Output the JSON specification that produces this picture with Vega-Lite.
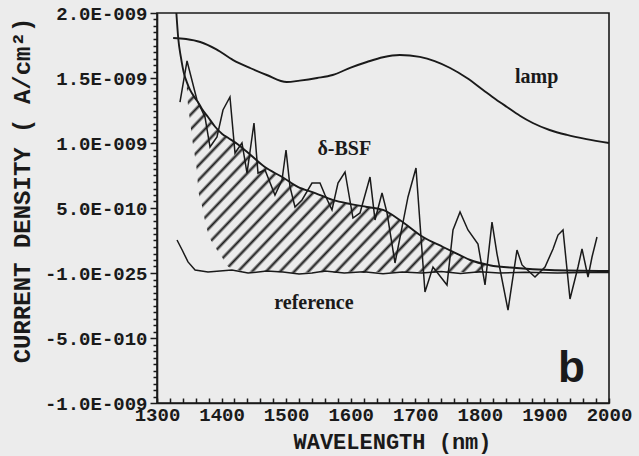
{
  "$schema": "https://vega.github.io/schema/vega-lite/v6.json",
  "width": 452,
  "height": 390,
  "autosize": {"type": "none"},
  "padding": {"left": 157, "top": 13, "right": 30, "bottom": 53},
  "background": "#ececec",
  "datasets": {
    "hatch": [
      {"x": 1346, "top": 1.47, "bottom": 1.44},
      {"x": 1348, "top": 1.45, "bottom": 1.29},
      {"x": 1351, "top": 1.41, "bottom": 1.18},
      {"x": 1354, "top": 1.38, "bottom": 1.05},
      {"x": 1359, "top": 1.345, "bottom": 0.89},
      {"x": 1362, "top": 1.32, "bottom": 0.77},
      {"x": 1364, "top": 1.31, "bottom": 0.64},
      {"x": 1370, "top": 1.26, "bottom": 0.51},
      {"x": 1374, "top": 1.23, "bottom": 0.41},
      {"x": 1379, "top": 1.2, "bottom": 0.31},
      {"x": 1390, "top": 1.125, "bottom": 0.2},
      {"x": 1401, "top": 1.07, "bottom": 0.12},
      {"x": 1410, "top": 1.04, "bottom": 0.05},
      {"x": 1425, "top": 0.99, "bottom": 0.023},
      {"x": 1441, "top": 0.925, "bottom": 0.01},
      {"x": 1467, "top": 0.815, "bottom": 0.01},
      {"x": 1494, "top": 0.738, "bottom": 0.005},
      {"x": 1518, "top": 0.662, "bottom": 0.0},
      {"x": 1545, "top": 0.615, "bottom": 0.01},
      {"x": 1572, "top": 0.562, "bottom": 0.0},
      {"x": 1600, "top": 0.53, "bottom": 0.01},
      {"x": 1625, "top": 0.508, "bottom": 0.0},
      {"x": 1650, "top": 0.485, "bottom": 0.01},
      {"x": 1676, "top": 0.408, "bottom": 0.0},
      {"x": 1712, "top": 0.277, "bottom": 0.01},
      {"x": 1743, "top": 0.2, "bottom": 0.0},
      {"x": 1769, "top": 0.138, "bottom": 0.01},
      {"x": 1785, "top": 0.1, "bottom": 0.0},
      {"x": 1815, "top": 0.06, "bottom": 0.01}
    ],
    "smooth": [
      {"s": "lamp", "x": 1325, "y": 1.808},
      {"s": "lamp", "x": 1345, "y": 1.8},
      {"s": "lamp", "x": 1367, "y": 1.777},
      {"s": "lamp", "x": 1392, "y": 1.72},
      {"s": "lamp", "x": 1418, "y": 1.638},
      {"s": "lamp", "x": 1445, "y": 1.575},
      {"s": "lamp", "x": 1470, "y": 1.523},
      {"s": "lamp", "x": 1501, "y": 1.469},
      {"s": "lamp", "x": 1521, "y": 1.48},
      {"s": "lamp", "x": 1548, "y": 1.5},
      {"s": "lamp", "x": 1572, "y": 1.523},
      {"s": "lamp", "x": 1600, "y": 1.58},
      {"s": "lamp", "x": 1625, "y": 1.623},
      {"s": "lamp", "x": 1650, "y": 1.66},
      {"s": "lamp", "x": 1676, "y": 1.677},
      {"s": "lamp", "x": 1707, "y": 1.662},
      {"s": "lamp", "x": 1730, "y": 1.63},
      {"s": "lamp", "x": 1754, "y": 1.577},
      {"s": "lamp", "x": 1780, "y": 1.5},
      {"s": "lamp", "x": 1805, "y": 1.408},
      {"s": "lamp", "x": 1825, "y": 1.335},
      {"s": "lamp", "x": 1842, "y": 1.277},
      {"s": "lamp", "x": 1862, "y": 1.21},
      {"s": "lamp", "x": 1882, "y": 1.154},
      {"s": "lamp", "x": 1908, "y": 1.1},
      {"s": "lamp", "x": 1935, "y": 1.062},
      {"s": "lamp", "x": 1965, "y": 1.03},
      {"s": "lamp", "x": 2000, "y": 1.0},
      {"s": "bsf", "x": 1330, "y": 2.0},
      {"s": "bsf", "x": 1333, "y": 1.8},
      {"s": "bsf", "x": 1337, "y": 1.66},
      {"s": "bsf", "x": 1342, "y": 1.53},
      {"s": "bsf", "x": 1346, "y": 1.47},
      {"s": "bsf", "x": 1351, "y": 1.41},
      {"s": "bsf", "x": 1359, "y": 1.345},
      {"s": "bsf", "x": 1364, "y": 1.31},
      {"s": "bsf", "x": 1370, "y": 1.26},
      {"s": "bsf", "x": 1379, "y": 1.2},
      {"s": "bsf", "x": 1390, "y": 1.125},
      {"s": "bsf", "x": 1401, "y": 1.07},
      {"s": "bsf", "x": 1410, "y": 1.04},
      {"s": "bsf", "x": 1425, "y": 0.99},
      {"s": "bsf", "x": 1441, "y": 0.925},
      {"s": "bsf", "x": 1467, "y": 0.815},
      {"s": "bsf", "x": 1494, "y": 0.738},
      {"s": "bsf", "x": 1518, "y": 0.662},
      {"s": "bsf", "x": 1545, "y": 0.615},
      {"s": "bsf", "x": 1572, "y": 0.562},
      {"s": "bsf", "x": 1600, "y": 0.53},
      {"s": "bsf", "x": 1625, "y": 0.508},
      {"s": "bsf", "x": 1650, "y": 0.485},
      {"s": "bsf", "x": 1676, "y": 0.408},
      {"s": "bsf", "x": 1712, "y": 0.277},
      {"s": "bsf", "x": 1743, "y": 0.2},
      {"s": "bsf", "x": 1769, "y": 0.138},
      {"s": "bsf", "x": 1785, "y": 0.1},
      {"s": "bsf", "x": 1815, "y": 0.06},
      {"s": "bsf", "x": 1857, "y": 0.038},
      {"s": "bsf", "x": 1908, "y": 0.023},
      {"s": "bsf", "x": 2000, "y": 0.015}
    ],
    "jagged": [
      {"s": "ref", "x": 1331, "y": 0.254},
      {"s": "ref", "x": 1339, "y": 0.177},
      {"s": "ref", "x": 1348, "y": 0.085},
      {"s": "ref", "x": 1359, "y": 0.023},
      {"s": "ref", "x": 1379, "y": 0.008},
      {"s": "ref", "x": 1416, "y": 0.023},
      {"s": "ref", "x": 1441, "y": 0.0},
      {"s": "ref", "x": 1470, "y": 0.015},
      {"s": "ref", "x": 1495, "y": 0.008},
      {"s": "ref", "x": 1520, "y": -0.008},
      {"s": "ref", "x": 1540, "y": 0.0},
      {"s": "ref", "x": 1560, "y": 0.015},
      {"s": "ref", "x": 1590, "y": 0.0},
      {"s": "ref", "x": 1620, "y": 0.01},
      {"s": "ref", "x": 1650, "y": -0.005},
      {"s": "ref", "x": 1680, "y": 0.008},
      {"s": "ref", "x": 1710, "y": 0.0},
      {"s": "ref", "x": 1740, "y": 0.012},
      {"s": "ref", "x": 1770, "y": -0.004},
      {"s": "ref", "x": 1800, "y": 0.01},
      {"s": "ref", "x": 1830, "y": 0.0},
      {"s": "ref", "x": 1870, "y": 0.005},
      {"s": "ref", "x": 1920, "y": 0.0},
      {"s": "ref", "x": 1960, "y": 0.004},
      {"s": "ref", "x": 2000, "y": 0.004},
      {"s": "meas", "x": 1335.6, "y": 1.315},
      {"s": "meas", "x": 1346.5, "y": 1.631},
      {"s": "meas", "x": 1361.9, "y": 1.331},
      {"s": "meas", "x": 1374.3, "y": 1.2},
      {"s": "meas", "x": 1382.1, "y": 0.969},
      {"s": "meas", "x": 1392.9, "y": 1.046},
      {"s": "meas", "x": 1402.2, "y": 1.254},
      {"s": "meas", "x": 1413, "y": 1.354},
      {"s": "meas", "x": 1420.8, "y": 0.923},
      {"s": "meas", "x": 1431.6, "y": 1.0},
      {"s": "meas", "x": 1439.4, "y": 0.769},
      {"s": "meas", "x": 1450.2, "y": 1.154},
      {"s": "meas", "x": 1456.4, "y": 0.769},
      {"s": "meas", "x": 1467.3, "y": 0.792},
      {"s": "meas", "x": 1482.7, "y": 0.6},
      {"s": "meas", "x": 1493.6, "y": 0.715},
      {"s": "meas", "x": 1499.8, "y": 0.946},
      {"s": "meas", "x": 1506, "y": 0.662},
      {"s": "meas", "x": 1513.7, "y": 0.508},
      {"s": "meas", "x": 1524.6, "y": 0.562},
      {"s": "meas", "x": 1540, "y": 0.692},
      {"s": "meas", "x": 1552.4, "y": 0.692},
      {"s": "meas", "x": 1560.2, "y": 0.6},
      {"s": "meas", "x": 1571, "y": 0.485},
      {"s": "meas", "x": 1580.3, "y": 0.692},
      {"s": "meas", "x": 1591.2, "y": 0.777},
      {"s": "meas", "x": 1603.5, "y": 0.423},
      {"s": "meas", "x": 1614.4, "y": 0.462},
      {"s": "meas", "x": 1629.9, "y": 0.738},
      {"s": "meas", "x": 1637.6, "y": 0.408},
      {"s": "meas", "x": 1648.5, "y": 0.615},
      {"s": "meas", "x": 1656.2, "y": 0.462},
      {"s": "meas", "x": 1668.6, "y": 0.077},
      {"s": "meas", "x": 1688.7, "y": 0.585},
      {"s": "meas", "x": 1701.1, "y": 0.808},
      {"s": "meas", "x": 1715, "y": -0.146},
      {"s": "meas", "x": 1727.4, "y": 0.046},
      {"s": "meas", "x": 1749.1, "y": -0.092},
      {"s": "meas", "x": 1758.4, "y": 0.331},
      {"s": "meas", "x": 1769.3, "y": 0.469},
      {"s": "meas", "x": 1781.6, "y": 0.331},
      {"s": "meas", "x": 1797.1, "y": 0.223},
      {"s": "meas", "x": 1808, "y": -0.092},
      {"s": "meas", "x": 1818.8, "y": 0.392},
      {"s": "meas", "x": 1826.6, "y": 0.146},
      {"s": "meas", "x": 1843.6, "y": -0.285},
      {"s": "meas", "x": 1857.5, "y": 0.177},
      {"s": "meas", "x": 1865.3, "y": 0.062},
      {"s": "meas", "x": 1885.4, "y": -0.031},
      {"s": "meas", "x": 1900.9, "y": 0.046},
      {"s": "meas", "x": 1913.3, "y": 0.185},
      {"s": "meas", "x": 1921, "y": 0.292},
      {"s": "meas", "x": 1928.8, "y": 0.331},
      {"s": "meas", "x": 1939.6, "y": -0.2},
      {"s": "meas", "x": 1952, "y": 0.046},
      {"s": "meas", "x": 1958.2, "y": 0.185},
      {"s": "meas", "x": 1967.5, "y": -0.031},
      {"s": "meas", "x": 1973.7, "y": 0.123},
      {"s": "meas", "x": 1981.4, "y": 0.277}
    ],
    "notes": [
      {"x": 1888, "y": 1.462, "label": "lamp"},
      {"x": 1590, "y": 0.908, "label": "δ-BSF"},
      {"x": 1543, "y": -0.275, "label": "reference"}
    ],
    "panel": [
      {"x": 1942, "y": -0.838, "label": "b"}
    ]
  },
  "layer": [
    {
      "data": {"name": "hatch"},
      "mark": {
        "type": "area",
        "interpolate": "monotone",
        "fill": {
          "gradient": "linear",
          "x1": 0, "y1": 0, "x2": 1.176, "y2": 0.7076,
          "stops": [
            {"offset": 0.008, "color": "rgba(26,26,26,0)"}, {"offset": 0.0145, "color": "#1a1a1a"}, {"offset": 0.021, "color": "rgba(26,26,26,0)"},
            {"offset": 0.037, "color": "rgba(26,26,26,0)"}, {"offset": 0.0435, "color": "#1a1a1a"}, {"offset": 0.050, "color": "rgba(26,26,26,0)"},
            {"offset": 0.066, "color": "rgba(26,26,26,0)"}, {"offset": 0.0725, "color": "#1a1a1a"}, {"offset": 0.079, "color": "rgba(26,26,26,0)"},
            {"offset": 0.095, "color": "rgba(26,26,26,0)"}, {"offset": 0.1015, "color": "#1a1a1a"}, {"offset": 0.108, "color": "rgba(26,26,26,0)"},
            {"offset": 0.124, "color": "rgba(26,26,26,0)"}, {"offset": 0.1305, "color": "#1a1a1a"}, {"offset": 0.137, "color": "rgba(26,26,26,0)"},
            {"offset": 0.153, "color": "rgba(26,26,26,0)"}, {"offset": 0.1595, "color": "#1a1a1a"}, {"offset": 0.166, "color": "rgba(26,26,26,0)"},
            {"offset": 0.182, "color": "rgba(26,26,26,0)"}, {"offset": 0.1885, "color": "#1a1a1a"}, {"offset": 0.195, "color": "rgba(26,26,26,0)"},
            {"offset": 0.211, "color": "rgba(26,26,26,0)"}, {"offset": 0.2175, "color": "#1a1a1a"}, {"offset": 0.224, "color": "rgba(26,26,26,0)"},
            {"offset": 0.240, "color": "rgba(26,26,26,0)"}, {"offset": 0.2465, "color": "#1a1a1a"}, {"offset": 0.253, "color": "rgba(26,26,26,0)"},
            {"offset": 0.269, "color": "rgba(26,26,26,0)"}, {"offset": 0.2755, "color": "#1a1a1a"}, {"offset": 0.282, "color": "rgba(26,26,26,0)"},
            {"offset": 0.298, "color": "rgba(26,26,26,0)"}, {"offset": 0.3045, "color": "#1a1a1a"}, {"offset": 0.311, "color": "rgba(26,26,26,0)"},
            {"offset": 0.327, "color": "rgba(26,26,26,0)"}, {"offset": 0.3335, "color": "#1a1a1a"}, {"offset": 0.340, "color": "rgba(26,26,26,0)"},
            {"offset": 0.356, "color": "rgba(26,26,26,0)"}, {"offset": 0.3625, "color": "#1a1a1a"}, {"offset": 0.369, "color": "rgba(26,26,26,0)"},
            {"offset": 0.385, "color": "rgba(26,26,26,0)"}, {"offset": 0.3915, "color": "#1a1a1a"}, {"offset": 0.398, "color": "rgba(26,26,26,0)"},
            {"offset": 0.414, "color": "rgba(26,26,26,0)"}, {"offset": 0.4205, "color": "#1a1a1a"}, {"offset": 0.427, "color": "rgba(26,26,26,0)"},
            {"offset": 0.443, "color": "rgba(26,26,26,0)"}, {"offset": 0.4495, "color": "#1a1a1a"}, {"offset": 0.456, "color": "rgba(26,26,26,0)"},
            {"offset": 0.472, "color": "rgba(26,26,26,0)"}, {"offset": 0.4785, "color": "#1a1a1a"}, {"offset": 0.485, "color": "rgba(26,26,26,0)"},
            {"offset": 0.501, "color": "rgba(26,26,26,0)"}, {"offset": 0.5075, "color": "#1a1a1a"}, {"offset": 0.514, "color": "rgba(26,26,26,0)"},
            {"offset": 0.530, "color": "rgba(26,26,26,0)"}, {"offset": 0.5365, "color": "#1a1a1a"}, {"offset": 0.543, "color": "rgba(26,26,26,0)"},
            {"offset": 0.559, "color": "rgba(26,26,26,0)"}, {"offset": 0.5655, "color": "#1a1a1a"}, {"offset": 0.572, "color": "rgba(26,26,26,0)"},
            {"offset": 0.588, "color": "rgba(26,26,26,0)"}, {"offset": 0.5945, "color": "#1a1a1a"}, {"offset": 0.601, "color": "rgba(26,26,26,0)"},
            {"offset": 0.617, "color": "rgba(26,26,26,0)"}, {"offset": 0.6235, "color": "#1a1a1a"}, {"offset": 0.630, "color": "rgba(26,26,26,0)"},
            {"offset": 0.646, "color": "rgba(26,26,26,0)"}, {"offset": 0.6525, "color": "#1a1a1a"}, {"offset": 0.659, "color": "rgba(26,26,26,0)"},
            {"offset": 0.675, "color": "rgba(26,26,26,0)"}, {"offset": 0.6815, "color": "#1a1a1a"}, {"offset": 0.688, "color": "rgba(26,26,26,0)"},
            {"offset": 0.704, "color": "rgba(26,26,26,0)"}, {"offset": 0.7105, "color": "#1a1a1a"}, {"offset": 0.717, "color": "rgba(26,26,26,0)"},
            {"offset": 0.733, "color": "rgba(26,26,26,0)"}, {"offset": 0.7395, "color": "#1a1a1a"}, {"offset": 0.746, "color": "rgba(26,26,26,0)"},
            {"offset": 0.762, "color": "rgba(26,26,26,0)"}, {"offset": 0.7685, "color": "#1a1a1a"}, {"offset": 0.775, "color": "rgba(26,26,26,0)"},
            {"offset": 0.791, "color": "rgba(26,26,26,0)"}, {"offset": 0.7975, "color": "#1a1a1a"}, {"offset": 0.804, "color": "rgba(26,26,26,0)"},
            {"offset": 0.820, "color": "rgba(26,26,26,0)"}, {"offset": 0.8265, "color": "#1a1a1a"}, {"offset": 0.833, "color": "rgba(26,26,26,0)"},
            {"offset": 0.849, "color": "rgba(26,26,26,0)"}, {"offset": 0.8555, "color": "#1a1a1a"}, {"offset": 0.862, "color": "rgba(26,26,26,0)"},
            {"offset": 0.878, "color": "rgba(26,26,26,0)"}, {"offset": 0.8845, "color": "#1a1a1a"}, {"offset": 0.891, "color": "rgba(26,26,26,0)"},
            {"offset": 0.907, "color": "rgba(26,26,26,0)"}, {"offset": 0.9135, "color": "#1a1a1a"}, {"offset": 0.920, "color": "rgba(26,26,26,0)"},
            {"offset": 0.936, "color": "rgba(26,26,26,0)"}, {"offset": 0.9425, "color": "#1a1a1a"}, {"offset": 0.949, "color": "rgba(26,26,26,0)"},
            {"offset": 0.965, "color": "rgba(26,26,26,0)"}, {"offset": 0.9715, "color": "#1a1a1a"}, {"offset": 0.978, "color": "rgba(26,26,26,0)"}
          ]
        }
      },
      "encoding": {
        "x": {
          "field": "x", "type": "quantitative",
          "scale": {"domain": [1300, 2000], "nice": false, "zero": false},
          "axis": {
            "title": "WAVELENGTH (nm)",
            "tickCount": 200,
            "values": [1300, 1320, 1340, 1360, 1380, 1400, 1420, 1440, 1460, 1480, 1500, 1520, 1540, 1560, 1580, 1600, 1620, 1640, 1660, 1680, 1700, 1720, 1740, 1760, 1780, 1800, 1820, 1840, 1860, 1880, 1900, 1920, 1940, 1960, 1980, 2000],
            "labelExpr": "datum.value % 100 == 0 ? '' + datum.value : ''",
            "labelFlush": false,
            "labelOverlap": false,
            "labelFont": "Liberation Mono",
            "labelFontSize": 19,
            "labelFontWeight": "bold",
            "labelColor": "#1a1a1a",
            "labelPadding": 7,
            "tickSize": -5,
            "tickColor": "#1a1a1a",
            "tickWidth": 1.5,
            "domainColor": "#1a1a1a",
            "domainWidth": 1.6,
            "grid": false,
            "titleFont": "Liberation Mono",
            "titleFontSize": 22,
            "titleFontWeight": "bold",
            "titleColor": "#1a1a1a",
            "titleX": 235,
            "titleY": 45,
            "titleAlign": "center",
            "titleBaseline": "alphabetic"
          }
        },
        "y": {
          "field": "top", "type": "quantitative",
          "scale": {"domain": [-1, 2], "nice": false, "zero": false},
          "axis": {
            "title": "CURRENT DENSITY ( A/cm²)",
            "tickCount": 200,
            "values": [-1, -0.95, -0.9, -0.85, -0.8, -0.75, -0.7, -0.65, -0.6, -0.55, -0.5, -0.45, -0.4, -0.35, -0.3, -0.25, -0.2, -0.15, -0.1, -0.05, 0, 0.05, 0.1, 0.15, 0.2, 0.25, 0.3, 0.35, 0.4, 0.45, 0.5, 0.55, 0.6, 0.65, 0.7, 0.75, 0.8, 0.85, 0.9, 0.95, 1, 1.05, 1.1, 1.15, 1.2, 1.25, 1.3, 1.35, 1.4, 1.45, 1.5, 1.55, 1.6, 1.65, 1.7, 1.75, 1.8, 1.85, 1.9, 1.95, 2],
            "labelExpr": "datum.value == 2 ? '2.0E-009' : datum.value == 1.5 ? '1.5E-009' : datum.value == 1 ? '1.0E-009' : datum.value == 0.5 ? '5.0E-010' : datum.value == 0 ? '-1.0E-025' : datum.value == -0.5 ? '-5.0E-010' : datum.value == -1 ? '-1.0E-009' : ''",
            "labelOverlap": false,
            "labelFont": "Liberation Mono",
            "labelFontSize": 19,
            "labelFontWeight": "bold",
            "labelColor": "#1a1a1a",
            "labelPadding": 3,
            "tickSize": {"condition": {"test": "abs(datum.value * 2 - round(datum.value * 2)) < 0.001", "value": 7}, "value": 4},
            "tickColor": "#1a1a1a",
            "tickWidth": 1.5,
            "domainColor": "#1a1a1a",
            "domainWidth": 1.6,
            "grid": false,
            "titleFont": "Liberation Mono",
            "titleFontSize": 24,
            "titleFontWeight": "bold",
            "titleColor": "#1a1a1a",
            "titleAngle": 270,
            "titleX": -135,
            "titleY": 177,
            "titleAlign": "center",
            "titleBaseline": "middle"
          }
        },
        "y2": {"field": "bottom"}
      }
    },
    {
      "data": {"name": "smooth"},
      "mark": {"type": "line", "interpolate": "monotone", "color": "#1a1a1a", "strokeWidth": 1.9},
      "encoding": {
        "x": {"field": "x", "type": "quantitative"},
        "y": {"field": "y", "type": "quantitative"},
        "detail": {"field": "s"}
      }
    },
    {
      "data": {"name": "jagged"},
      "mark": {"type": "line", "color": "#1a1a1a", "strokeWidth": 1.5},
      "encoding": {
        "x": {"field": "x", "type": "quantitative"},
        "y": {"field": "y", "type": "quantitative"},
        "detail": {"field": "s"}
      }
    },
    {
      "data": {"name": "notes"},
      "mark": {"type": "text", "font": "Liberation Serif", "fontWeight": "bold", "fontSize": 20, "color": "#1a1a1a", "align": "center", "baseline": "alphabetic"},
      "encoding": {
        "x": {"field": "x", "type": "quantitative"},
        "y": {"field": "y", "type": "quantitative"},
        "text": {"field": "label"}
      }
    },
    {
      "data": {"name": "panel"},
      "mark": {"type": "text", "font": "Liberation Sans", "fontWeight": "bold", "fontSize": 44, "color": "#1a1a1a", "align": "center", "baseline": "alphabetic"},
      "encoding": {
        "x": {"field": "x", "type": "quantitative"},
        "y": {"field": "y", "type": "quantitative"},
        "text": {"field": "label"}
      }
    }
  ],
  "config": {
    "view": {"stroke": "#1a1a1a", "strokeWidth": 1.6}
  }
}
